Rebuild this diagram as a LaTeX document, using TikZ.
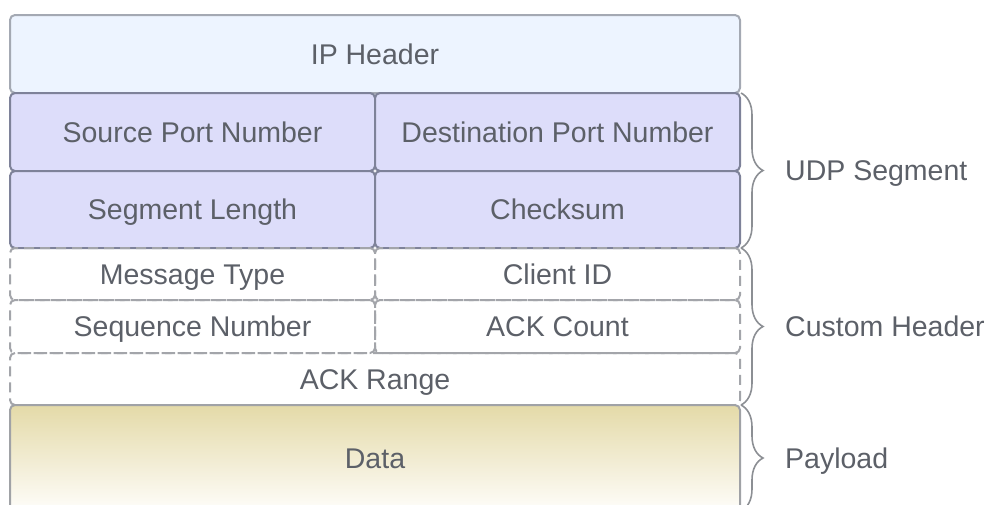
\documentclass[tikz,border=0pt]{standalone}
\usepackage{fontspec}
\setmainfont{Liberation Sans}
\usetikzlibrary{decorations.pathreplacing}
\definecolor{txt}{HTML}{5C6068}
\definecolor{ipfill}{HTML}{EDF4FF}
\definecolor{ipline}{HTML}{A4A9B3}
\definecolor{udpfill}{HTML}{DDDDFA}
\definecolor{udpline}{HTML}{7E8299}
\definecolor{dashline}{HTML}{A3A5AA}
\definecolor{datatop}{HTML}{E4DAA8}
\definecolor{databot}{HTML}{FEFDFA}
\definecolor{dataline}{HTML}{A0A2A6}
\definecolor{braceline}{HTML}{8C8F94}
\tikzset{
  cell/.style={rectangle, rounded corners=5pt, inner sep=0pt, outer sep=0pt,
    line width=2pt, text=txt, font=\fontsize{28.5}{34}\selectfont,
    text height=20.4pt, text depth=0pt},
  ipcell/.style={cell, draw=ipline, fill=ipfill},
  udpcell/.style={cell, draw=udpline, fill=udpfill},
  optcell/.style={cell, draw=dashline, dash pattern=on 10pt off 6pt},
  datacell/.style={cell, draw=dataline, top color=datatop, bottom color=databot},
  grpbrace/.style={draw=braceline, line width=1.6pt,
    decorate, decoration={brace, amplitude=22pt}},
  grplabel/.style={anchor=west, text=txt, font=\fontsize{28.5}{34}\selectfont,
    inner sep=0pt, text height=20.4pt, text depth=0pt}
}
\begin{document}
\begin{tikzpicture}[x=1pt, y=-1pt]
\useasboundingbox (0,0) rectangle (993,504);
% network and transport headers
\node[ipcell, minimum width=730pt, minimum height=78pt] (ip) at (375,54) {IP Header};
\node[udpcell, minimum width=365pt, minimum height=78pt] (src) at (192.5,132) {Source Port Number};
\node[udpcell, minimum width=365pt, minimum height=78pt] (dst) at (557.5,132) {Destination Port Number};
\node[udpcell, minimum width=365pt, minimum height=77pt] (len) at (192.5,209.5) {Segment Length};
\node[udpcell, minimum width=365pt, minimum height=77pt] (chk) at (557.5,209.5) {Checksum};
% application header fields
\node[optcell, minimum width=365pt, minimum height=52pt] (mtype) at (192.5,274) {Message Type};
\node[optcell, minimum width=365pt, minimum height=52pt] (cid) at (557.5,274) {Client ID};
\node[optcell, minimum width=365pt, minimum height=53pt] (seq) at (192.5,326.5) {Sequence Number};
\node[optcell, minimum width=365pt, minimum height=53pt] (ackc) at (557.5,326.5) {ACK Count};
\node[optcell, minimum width=730pt, minimum height=52pt] (ackr) at (375,379) {ACK Range};
% payload, running off the lower edge
\node[datacell, minimum width=730pt, minimum height=106pt] (data) at (375,458) {Data};
% group braces
\coordinate (pb) at (741,511);
\draw[grpbrace] ([xshift=1pt]dst.north east) -- ([xshift=1pt]chk.south east);
\draw[grpbrace] ([xshift=1pt]cid.north east) -- ([xshift=1pt]ackr.south east);
\draw[grpbrace] ([xshift=1pt]data.north east) -- (pb);
\node[grplabel] (lu) at (785,170.5) {UDP Segment};
\node[grplabel] (lc) at (785,326.5) {Custom Header};
\node[grplabel] (lp) at (785,458) {Payload};
\end{tikzpicture}
\end{document}
